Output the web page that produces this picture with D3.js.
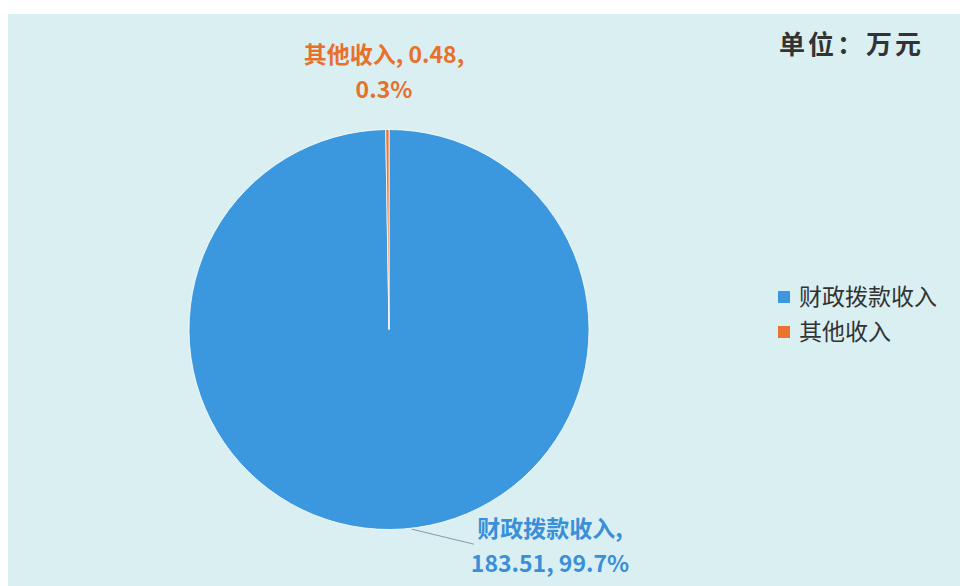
<!DOCTYPE html>
<html><head><meta charset="utf-8">
<script src="https://cdn.jsdelivr.net/npm/d3@7"></script>
<style>body{margin:0;background:#fff;}svg{display:block;}</style>
</head><body>
<script>
const categories = ["财政拨款收入", "其他收入"];
const values = [183.51, 0.48];
const percents = ["99.7%", "0.3%"];
const colors = ["#3b98de", "#ee7330"];
const labelColors = ["#3a8fd8", "#e8702a"];
const unitText = "单位：万元";

const W = 960, H = 586;
const svg = d3.select("body").append("svg").attr("width", W).attr("height", H);
svg.append("rect").attr("x", 8).attr("y", 14).attr("width", W - 8).attr("height", H - 14).attr("fill", "#d9eff2");

const font = "'Noto Sans CJK SC', 'Noto Sans', sans-serif";
const cx = 389, cy = 329.5, r = 200;
const pie = d3.pie().sort(null).value(d => d)(values);
const arc = d3.arc().innerRadius(0).outerRadius(r);
const g = svg.append("g").attr("transform", `translate(${cx},${cy})`);
g.selectAll("path").data(pie).join("path")
  .attr("d", arc).attr("fill", (d, i) => colors[i])
  .attr("stroke", "#ffffff").attr("stroke-width", 0.8);

// leader line for big slice label
const angle0 = pie[0].startAngle + (pie[0].endAngle - pie[0].startAngle) * 0.483;
const p0 = [Math.sin(angle0) * r, -Math.cos(angle0) * r];
g.append("line").attr("x1", p0[0]).attr("y1", p0[1] + 1).attr("x2", p0[0] + 62).attr("y2", p0[1] + 16)
  .attr("stroke", "#8a9aa0").attr("stroke-width", 1);

// labels
const lab0 = svg.append("text").attr("font-family", font).attr("font-weight", "bold").attr("font-size", 23)
  .attr("fill", labelColors[0]).attr("text-anchor", "middle");
lab0.append("tspan").attr("x", 550).attr("y", 537).text(categories[0] + ",");
lab0.append("tspan").attr("x", 550).attr("y", 572).text(d3.format(".2f")(values[0]) + ", " + percents[0]);

const lab1 = svg.append("text").attr("font-family", font).attr("font-weight", "bold").attr("font-size", 23)
  .attr("fill", labelColors[1]).attr("text-anchor", "middle");
lab1.append("tspan").attr("x", 384).attr("y", 63).text(categories[1] + ", " + values[1] + ",");
lab1.append("tspan").attr("x", 384).attr("y", 98).text(percents[1]);

// unit
svg.append("text").attr("x", 779).attr("y", 54).attr("font-family", font).attr("font-weight", "bold")
  .attr("font-size", 26).attr("fill", "#333").attr("letter-spacing", 3).text(unitText);

// legend
const leg = svg.append("g").attr("transform", "translate(778,290)");
categories.forEach((c, i) => {
  const row = leg.append("g").attr("transform", `translate(0,${i * 35})`);
  row.append("rect").attr("width", 12).attr("height", 12).attr("y", 1).attr("fill", colors[i]);
  row.append("text").attr("x", 21).attr("y", 15).attr("font-family", font).attr("font-size", 23)
    .attr("fill", "#333").text(c);
});
</script>
</body></html>
